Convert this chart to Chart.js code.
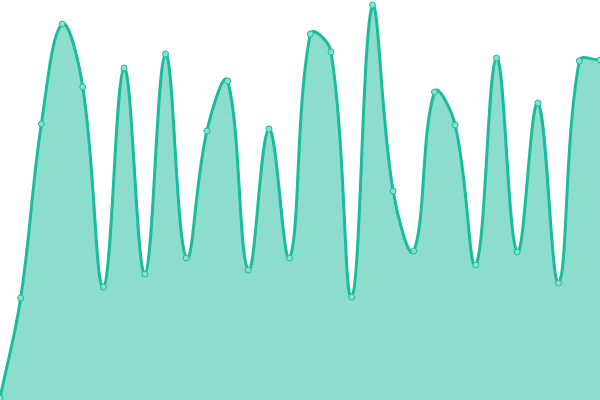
<!DOCTYPE html>
<html lang="en">
<head>
<meta charset="UTF-8">
<title>Area chart</title>
<script src="https://cdn.jsdelivr.net/npm/chart.js"></script>
<style>
  html, body { margin: 0; padding: 0; background: #fff; }
  #wrap { width: 600px; height: 400px; }
</style>
</head>
<body>
<div id="wrap"><canvas id="chart" width="600" height="400"></canvas></div>
<script>
// Data (y axis 0..400, no visible axes)
const labels = Array.from({ length: 30 }, (_, i) => String(i + 1));
const values = [
  2, 102, 276, 376, 313, 113, 332, 126, 346, 142,
  269, 319, 130, 271, 142, 366, 348, 103, 395, 209,
  149, 308, 275, 135, 342, 148, 297, 117, 339, 340
];
const yMin = 0;
const yMax = 400;

const ctx = document.getElementById('chart').getContext('2d');
new Chart(ctx, {
  type: 'line',
  data: {
    labels: labels,
    datasets: [{
      data: values,
      fill: 'start',
      backgroundColor: 'rgba(26, 188, 156, 0.5)',
      borderColor: '#1abc9c',
      borderWidth: 3,
      tension: 0.4,
      pointRadius: 3,
      pointBorderWidth: 1,
      pointBackgroundColor: 'rgba(140, 222, 206, 1)',
      pointBorderColor: '#1abc9c'
    }]
  },
  options: {
    responsive: false,
    animation: false,
    layout: { padding: 0, autoPadding: false },
    plugins: {
      legend: { display: false },
      tooltip: { enabled: false }
    },
    scales: {
      x: { display: false, offset: false },
      y: { display: false, min: yMin, max: yMax }
    }
  }
});
</script>
</body>
</html>
